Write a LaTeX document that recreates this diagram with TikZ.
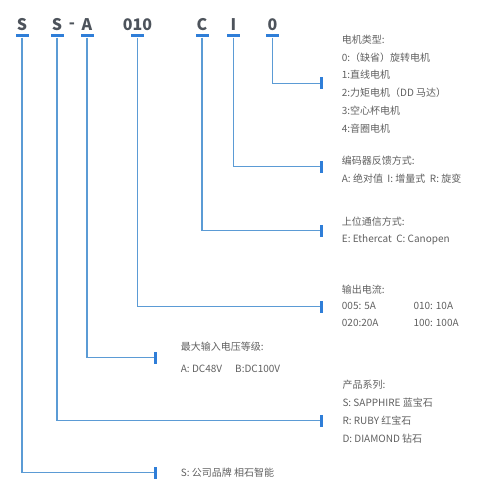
\documentclass[tikz,border=0pt]{standalone}
\usepackage{fontspec}
\setmainfont{Noto Sans CJK SC}
\begin{document}
\begin{tikzpicture}[x=1pt,y=-1pt,
  hdr/.style={font=\fontsize{16}{16}\selectfont\bfseries,text=hdrgray,inner sep=0pt},
  topbar/.style={fill=barblue,minimum width=13pt,minimum height=3.5pt,inner sep=0pt,draw=none},
  endbar/.style={fill=barblue,minimum width=3pt,minimum height=12pt,inner sep=0pt,draw=none},
  conn/.style={draw=lineblue,line width=1.3pt},
  lbl/.style={font=\fontsize{10}{10}\selectfont,text=txtgray,inner sep=0pt,anchor=base west}]
\definecolor{hdrgray}{HTML}{4D535B}
\definecolor{barblue}{HTML}{2F7ED8}
\definecolor{lineblue}{HTML}{5B9BD5}
\definecolor{txtgray}{HTML}{606060}
\useasboundingbox (0,0) rectangle (485,500);
% header letters
\node[hdr] (h1) at (22,25) {S};
\node[hdr] (h2) at (57,25) {S};
\node[hdr] (hd) at (72,26) {-};
\node[hdr] (h3) at (87,25) {A};
\node[hdr] (h4) at (137.5,25) {010};
\node[hdr] (h5) at (202,25) {C};
\node[hdr] (h6) at (233.5,25) {I};
\node[hdr] (h7) at (272.5,25) {0};
% bars
\node[topbar] (b1) at (22,35.7) {};
\node[topbar] (b2) at (57,35.7) {};
\node[topbar] (b3) at (87,35.7) {};
\node[topbar] (b4) at (137.5,35.7) {};
\node[topbar] (b5) at (202,35.7) {};
\node[topbar] (b6) at (233.5,35.7) {};
\node[topbar] (b7) at (272.5,35.7) {};
% end bars
\node[endbar] (e1) at (155.7,472.7) {};
\node[endbar] (e2) at (321.7,420.7) {};
\node[endbar] (e3) at (155.7,357.7) {};
\node[endbar] (e4) at (321.7,306.7) {};
\node[endbar] (e5) at (321.7,230.7) {};
\node[endbar] (e6) at (321.7,166.7) {};
\node[endbar] (e7) at (321.7,83.5) {};
% connectors
\draw[conn] (b1.south) |- (e1.west);
\draw[conn] (b2.south) |- (e2.west);
\draw[conn] (b3.south) |- (e3.west);
\draw[conn] (b4.south) |- (e4.west);
\draw[conn] (b5.south) |- (e5.west);
\draw[conn] (b6.south) |- (e6.west);
\draw[conn] (b7.south) |- (e7.west);
% motor type
\node[lbl] (m0) at (341.7,43.6) {电机类型:};
\node[lbl] (m1) at (341.7,61.3) {0:（缺省）旋转电机};
\node[lbl] (m2) at (341.7,79.0) {1:直线电机};
\node[lbl] (m3) at (341.7,96.7) {2:力矩电机（DD 马达）};
\node[lbl] (m4) at (341.7,114.4) {3:空心杯电机};
\node[lbl] (m5) at (341.7,132.1) {4:音圈电机};
% encoder
\node[lbl] (n0) at (341.7,164.3) {编码器反馈方式:};
\node[lbl] (n1) at (341.7,182.6) {A: 绝对值 \ I: 增量式 \ R: 旋变};
% communication
\node[lbl] (c0) at (341.7,225.3) {上位通信方式:};
\node[lbl] (c1) at (341.7,242.6) {E: Ethercat \ C: Canopen};
% current
\node[lbl] (i0) at (341.7,293.6) {输出电流:};
\node[lbl] (i1) at (341.7,309.8) {005: 5A};
\node[lbl] (i2) at (413.3,309.8) {010: 10A};
\node[lbl] (i3) at (341.7,326.3) {020:20A};
\node[lbl] (i4) at (413.3,326.3) {100: 100A};
% voltage
\node[lbl] (v0) at (180.7,350.3) {最大输入电压等级:};
\node[lbl] (v1) at (180.7,372.6) {A: DC48V};
\node[lbl] (v2) at (235,372.6) {B:DC100V};
% series
\node[lbl] (s0) at (342.3,388.6) {产品系列:};
\node[lbl] (s1) at (342.3,406.3) {S: SAPPHIRE 蓝宝石};
\node[lbl] (s2) at (342.3,424.3) {R: RUBY 红宝石};
\node[lbl] (s3) at (342.3,442.6) {D: DIAMOND 钻石};
% brand
\node[lbl] (r0) at (180.7,476.6) {S: 公司品牌 相石智能};
\end{tikzpicture}
\end{document}
